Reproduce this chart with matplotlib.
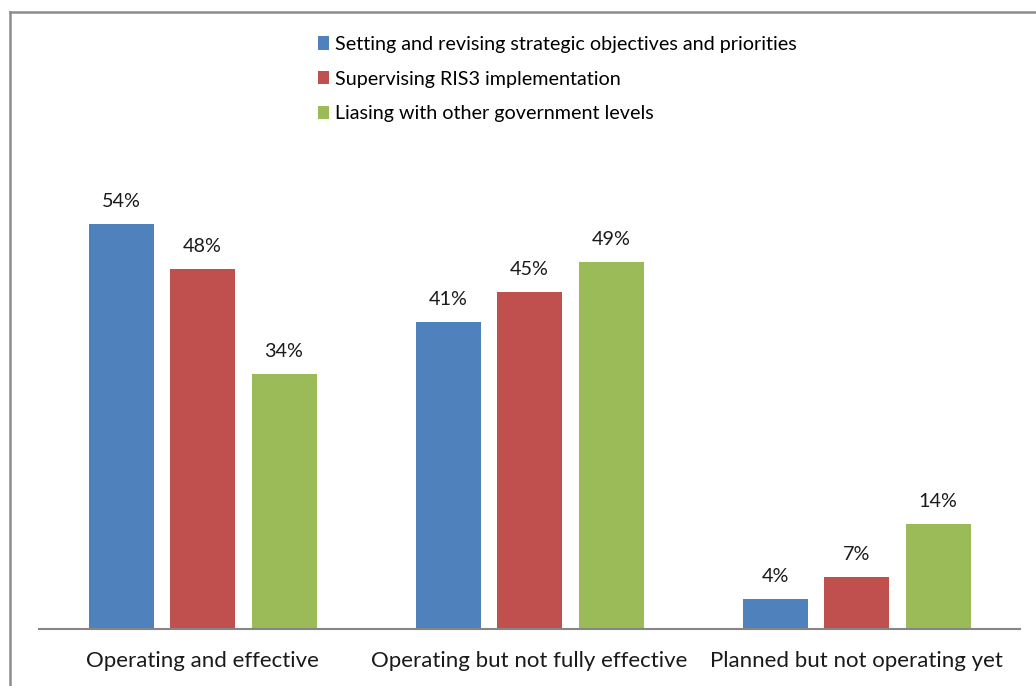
import matplotlib.pyplot as plt
import numpy as np
from matplotlib.lines import Line2D
from matplotlib.patches import Patch

plt.rcParams['font.family'] = ['Lato', 'DejaVu Sans']

categories = ["Operating and effective",
              "Operating but not fully effective",
              "Planned but not operating yet"]
series = ["Setting and revising strategic objectives and priorities",
          "Supervising RIS3 implementation",
          "Liasing with other government levels"]
objectives = [54, 41, 4]
supervising = [48, 45, 7]
liasing = [34, 49, 14]
colors = ["#4f81bd", "#c0504d", "#9bbb59"]

W, H = 1036, 686
fig = plt.figure(figsize=(W / 100, H / 100), dpi=100)

# outer chart frame: only its left and top edges fall inside the canvas
fx, fy = 9.5 / W, 1 - 11.5 / H
fig.add_artist(Line2D([fx, fx], [0, fy], transform=fig.transFigure,
                      color="#8c8c8c", lw=1.8, solid_capstyle="projecting"))
fig.add_artist(Line2D([fx, 1.01], [fy, fy], transform=fig.transFigure,
                      color="#8c8c8c", lw=1.8, solid_capstyle="projecting"))

base_y = 629
top_y = 20
ax = fig.add_axes([39 / W, (H - base_y) / H, 981 / W, (base_y - top_y) / H])
ax.set_xlim(-0.5, 2.5)
ax.set_ylim(0, (base_y - top_y) / 7.5)

x = np.arange(len(categories))
width = 65 / 327
offset = 81.5 / 327
for i, vals in enumerate([objectives, supervising, liasing]):
    bars = ax.bar(x + (i - 1) * offset, vals, width, color=colors[i])
    for b, v in zip(bars, vals):
        ax.annotate(f"{v}%", (b.get_x() + b.get_width() / 2, v),
                    xytext=(0, 14), textcoords="offset pixels",
                    ha="center", va="bottom", fontsize=14.2, color="#1a1a1a")

for s in ["top", "left", "right"]:
    ax.spines[s].set_visible(False)
ax.spines["bottom"].set_color("#868686")
ax.spines["bottom"].set_linewidth(1.5)
ax.set_yticks([])
ax.set_xticks(x)
ax.set_xticklabels(categories, fontsize=16, color="#1a1a1a")
ax.tick_params(axis="x", length=0, pad=16)

handles = [Patch(facecolor=c) for c in colors]
fig.legend(handles, series, loc="upper left", bbox_to_anchor=(317.5 / W, 1 - 36 / H),
           frameon=False, fontsize=14.2, handlelength=0.6, handleheight=0.65,
           handletextpad=0.3, labelspacing=0.9, borderpad=0, borderaxespad=0)

fig.savefig("out.png", dpi=100)
